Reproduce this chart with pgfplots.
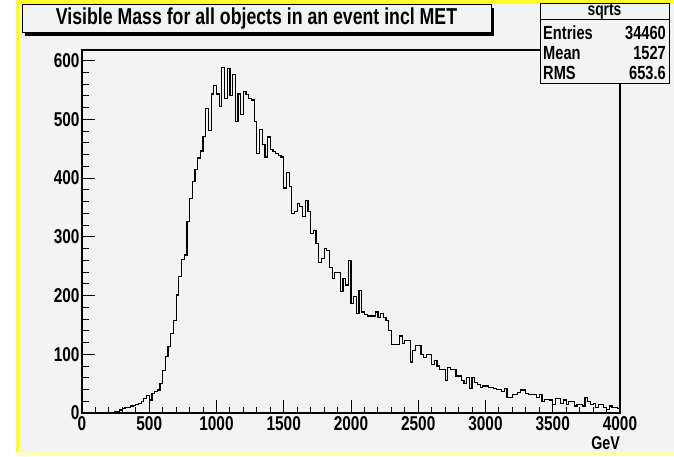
\documentclass[border=0pt]{standalone}
\usepackage{fontspec}
\setmainfont{Liberation Sans}[FakeStretch=0.77]
\usepackage{pgfplots}
\pgfplotsset{compat=1.18}
\usepackage{pgfplotstable}
\definecolor{bg}{RGB}{243,243,243}
\definecolor{yel}{RGB}{255,255,40}

\pgfplotstableread{
x y
0 0
20 0
40 0
60 0
80 0
100 0
120 0
140 0
160 0
180 0
200 0
220 0
240 2
260 3
280 5
300 8
320 10
340 10
360 12
380 13
400 14
420 16
440 19
460 25
480 30
500 22
520 33
540 36
560 39
580 50
600 73
620 96
640 113
660 136
680 158
700 201
720 232
740 261
760 269
780 326
800 365
820 394
840 415
860 434
880 446
900 471
920 518
940 481
960 543
980 557
1000 543
1020 522
1040 588
1060 536
1080 586
1100 541
1120 576
1140 496
1160 543
1180 508
1200 547
1220 542
1240 536
1260 533
1280 496
1300 442
1320 482
1340 457
1360 436
1380 470
1400 448
1420 445
1440 442
1460 439
1480 436
1500 383
1520 409
1540 386
1560 340
1580 343
1600 356
1620 352
1640 335
1660 362
1680 343
1700 306
1720 311
1740 289
1760 256
1780 263
1800 280
1820 277
1840 248
1860 229
1880 239
1900 239
1920 207
1940 229
1960 218
1980 260
2000 186
2020 198
2040 170
2060 208
2080 172
2100 168
2120 165
2140 165
2160 165
2180 172
2200 162
2220 170
2240 162
2260 158
2280 140
2300 117
2320 117
2340 117
2360 131
2380 118
2400 123
2420 123
2440 87
2460 106
2480 115
2500 115
2520 99
2540 94
2560 100
2580 100
2600 83
2620 90
2640 80
2660 74
2680 74
2700 55
2720 77
2740 74
2760 74
2780 63
2800 63
2820 55
2840 50
2860 60
2880 42
2900 60
2920 52
2940 49
2960 43
2980 46
3000 46
3020 43
3040 43
3060 42
3080 40
3100 40
3120 37
3140 42
3160 26
3180 27
3200 31
3220 31
3240 35
3260 39
3280 39
3300 33
3320 31
3340 32
3360 32
3380 26
3400 31
3420 20
3440 23
3460 23
3480 22
3500 15
3520 25
3540 25
3560 16
3580 22
3600 15
3620 19
3640 19
3660 12
3680 15
3700 15
3720 12
3740 26
3760 19
3780 15
3800 16
3820 9
3840 14
3860 14
3880 10
3900 6
3920 12
3940 9
3960 9
3980 8
4000 8
}\histdata

\begin{document}
\begin{tikzpicture}[x=1pt,y=1pt]
\path[use as bounding box] (0,0) rectangle (674,456);
\fill[white] (0,0) rectangle (674,456);
\fill[bg] (19,4) rectangle (674,452);
\fill[yel] (16,4) rectangle (19,456);
\fill[yel] (16,452) rectangle (674,456);
\fill[yel!35] (16,0) rectangle (674,4);

\begin{axis}[
  at={(82pt,43pt)}, anchor=south west,
  scale only axis, width=538pt, height=363pt,
  xmin=0, xmax=4000, ymin=0, ymax=618,
  axis background/.style={fill=bg},
  axis line style={line width=1.3pt},
  tick align=inside, xtick pos=bottom, ytick pos=left,
  xtick={0,500,...,4000}, ytick={0,100,...,600},
  minor x tick num=4, minor y tick num=4,
  major tick length=13pt, minor tick length=6.5pt,
  tick style={line width=1pt, black},
  scaled ticks=false,
  /pgf/number format/1000 sep={},
  /pgf/number format/assume math mode=true,
  tick label style={font=\fontsize{20}{20}\selectfont\bfseries},
  xticklabel style={yshift=0pt},
  yticklabel style={xshift=1pt},
]
\addplot[const plot, line width=1.2pt, black] table[x=x,y=y] {\histdata};
\end{axis}

% GeV label
\node[anchor=north east, inner sep=0pt, font=\fontsize{18.5}{18.5}\selectfont\bfseries] at (620,19.5) {GeV};

% title box with shadow
\fill[black] (25,420) rectangle (494,448);
\draw[fill=bg, line width=1pt] (22,423) rectangle (491,451);
\node[inner sep=0pt, font=\fontsize{23}{23}\selectfont\bfseries] at (256.5,437.5) {Visible Mass for all objects in an event incl MET};

% stats box
\draw[fill=bg, line width=1pt] (540,372) rectangle (669,452);
\draw[line width=1pt] (540,436) -- (669,436);
\node[inner sep=0pt, font=\fontsize{18}{18}\selectfont\bfseries] at (604.5,444.5) {sqrts};
\node[anchor=west, inner sep=0pt, font=\fontsize{19}{19}\selectfont\bfseries] at (543,423) {Entries};
\node[anchor=east, inner sep=0pt, font=\fontsize{19}{19}\selectfont\bfseries] at (666,423) {34460};
\node[anchor=west, inner sep=0pt, font=\fontsize{19}{19}\selectfont\bfseries] at (543,403) {Mean};
\node[anchor=east, inner sep=0pt, font=\fontsize{19}{19}\selectfont\bfseries] at (666,403) {1527};
\node[anchor=west, inner sep=0pt, font=\fontsize{19}{19}\selectfont\bfseries] at (543,383.5) {RMS};
\node[anchor=east, inner sep=0pt, font=\fontsize{19}{19}\selectfont\bfseries] at (666,383.5) {653.6};
\end{tikzpicture}
\end{document}
